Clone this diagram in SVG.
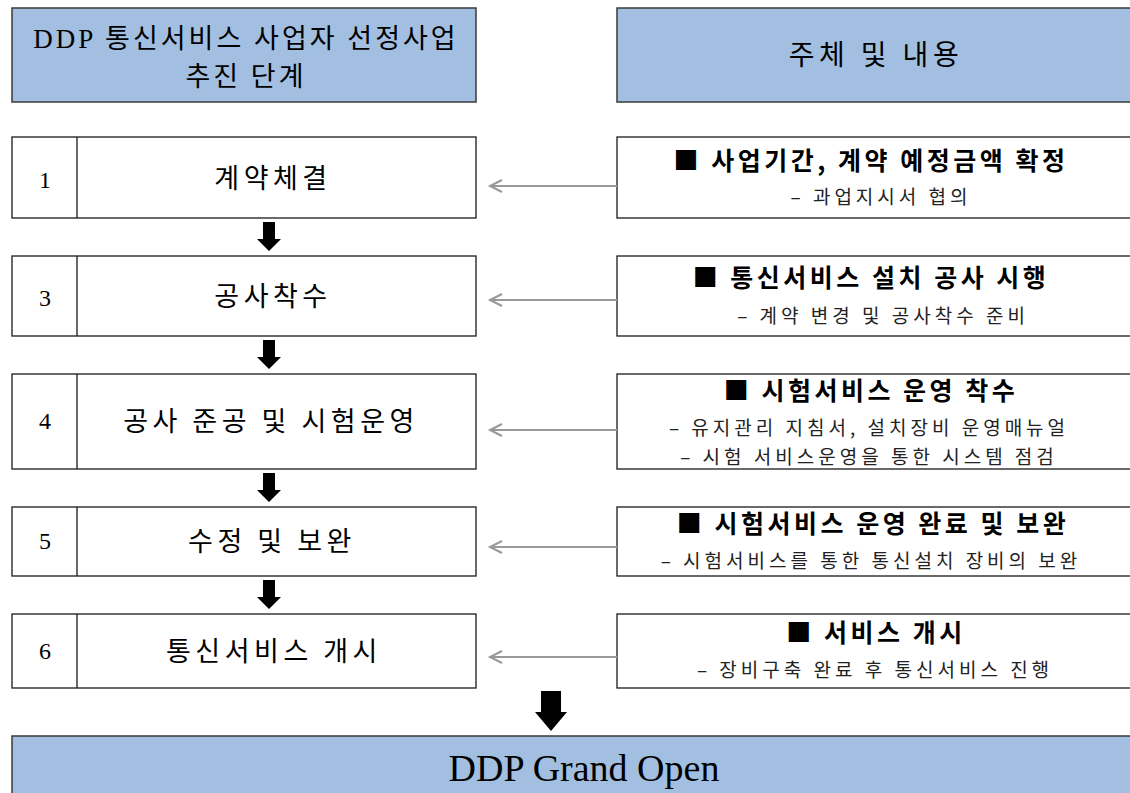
<svg xmlns="http://www.w3.org/2000/svg" width="1130" height="793" viewBox="0 0 1130 793">
<defs>
<style>
.hdr{fill:#a2bfe1;stroke:#3a3a3a;stroke-width:1.5}
.box{fill:#ffffff;stroke:#1a1a1a;stroke-width:1.3}
.t{font-family:"Liberation Serif","Noto Sans CJK KR",serif;fill:#000;text-anchor:middle}
.k{font-family:"Noto Sans CJK KR",sans-serif;fill:#000;text-anchor:middle}
.title{font-size:25px;font-weight:bold;letter-spacing:3.5px}
.sub{font-size:19px;fill:#222;letter-spacing:4px}
.main{font-size:27px;letter-spacing:4.5px}
.num{font-family:"Liberation Serif",serif;font-size:24px;text-anchor:middle}
.garrow{stroke:#999;stroke-width:2;fill:none}
.barrow{fill:#000}
</style>
<marker id="open" markerWidth="16" markerHeight="16" refX="13" refY="7" orient="auto" markerUnits="userSpaceOnUse">
<path d="M1,1 L13,7 L1,13" fill="none" stroke="#999" stroke-width="2"/>
</marker>
<path id="down" d="M-6,0 H6 V17 H12 L0,29 L-12,17 H-6 Z"/>
</defs>

<g id="header-left">
<rect class="hdr" x="12" y="8" width="464" height="94"/>
<text class="t" x="246" y="48" font-size="27" letter-spacing="3">DDP 통신서비스 사업자 선정사업</text>
<text class="t" x="246" y="86" font-size="27" letter-spacing="3">추진 단계</text>
</g>
<g id="header-right">
<rect class="hdr" x="617" y="8" width="520" height="94"/>
<text class="t" x="876" y="65" font-size="28" letter-spacing="4.5">주체 및 내용</text>
</g>

<g id="step1">
<rect class="box" x="12" y="137" width="464" height="81"/>
<line x1="77" y1="137" x2="77" y2="218" stroke="#1a1a1a" stroke-width="1.3"/>
<text class="num" x="45" y="188">1</text>
<text class="k main" x="273" y="188">계약체결</text>
</g>
<g id="step3">
<rect class="box" x="12" y="256" width="464" height="80"/>
<line x1="77" y1="256" x2="77" y2="336" stroke="#1a1a1a" stroke-width="1.3"/>
<text class="num" x="45" y="306">3</text>
<text class="k main" x="273" y="306">공사착수</text>
</g>
<g id="step4">
<rect class="box" x="12" y="374" width="464" height="95"/>
<line x1="77" y1="374" x2="77" y2="469" stroke="#1a1a1a" stroke-width="1.3"/>
<text class="num" x="45" y="429">4</text>
<text class="k main" x="271" y="431">공사 준공 및 시험운영</text>
</g>
<g id="step5">
<rect class="box" x="12" y="507" width="464" height="69"/>
<line x1="77" y1="507" x2="77" y2="576" stroke="#1a1a1a" stroke-width="1.3"/>
<text class="num" x="45" y="549">5</text>
<text class="k main" x="272" y="551">수정 및 보완</text>
</g>
<g id="step6">
<rect class="box" x="12" y="614" width="464" height="74"/>
<line x1="77" y1="614" x2="77" y2="688" stroke="#1a1a1a" stroke-width="1.3"/>
<text class="num" x="45" y="659">6</text>
<text class="k main" x="274" y="661">통신서비스 개시</text>
</g>

<g id="desc1">
<rect class="box" x="617" y="137" width="520" height="81"/>
<text class="k title" x="871" y="170">■ 사업기간, 계약 예정금액 확정</text>
<text class="k sub" x="881" y="204">– 과업지시서 협의</text>
</g>
<g id="desc3">
<rect class="box" x="617" y="256" width="520" height="80"/>
<text class="k title" x="871" y="287">■ 통신서비스 설치 공사 시행</text>
<text class="k sub" x="883" y="323">– 계약 변경 및 공사착수 준비</text>
</g>
<g id="desc4">
<rect class="box" x="617" y="374" width="520" height="95"/>
<text class="k title" x="871" y="400">■ 시험서비스 운영 착수</text>
<text class="k sub" x="869" y="435">– 유지관리 지침서, 설치장비 운영매뉴얼</text>
<text class="k sub" x="869" y="464">– 시험 서비스운영을 통한 시스템 점검</text>
</g>
<g id="desc5">
<rect class="box" x="617" y="507" width="520" height="69"/>
<text class="k title" x="873" y="533">■ 시험서비스 운영 완료 및 보완</text>
<text class="k sub" x="871" y="568">– 시험서비스를 통한 통신설치 장비의 보완</text>
</g>
<g id="desc6">
<rect class="box" x="617" y="614" width="520" height="74"/>
<text class="k title" x="876" y="642">■ 서비스 개시</text>
<text class="k sub" x="875" y="677">– 장비구축 완료 후 통신서비스 진행</text>
</g>

<g id="grand-open">
<rect class="hdr" x="12" y="736" width="1125" height="70"/>
<text class="t" x="584" y="781" font-size="38">DDP Grand Open</text>
</g>

<g id="connectors">
<line class="garrow" x1="617" y1="186" x2="490" y2="186" marker-end="url(#open)"/>
<line class="garrow" x1="617" y1="300" x2="490" y2="300" marker-end="url(#open)"/>
<line class="garrow" x1="617" y1="430" x2="490" y2="430" marker-end="url(#open)"/>
<line class="garrow" x1="617" y1="547" x2="490" y2="547" marker-end="url(#open)"/>
<line class="garrow" x1="617" y1="657" x2="490" y2="657" marker-end="url(#open)"/>
<use href="#down" class="barrow" x="269" y="222"/>
<use href="#down" class="barrow" x="269" y="340"/>
<use href="#down" class="barrow" x="269" y="473"/>
<use href="#down" class="barrow" x="269" y="580"/>
<path class="barrow" d="M541,691 H561 V712 H567 L551,731 L535,712 H541 Z"/>
</g>
</svg>
